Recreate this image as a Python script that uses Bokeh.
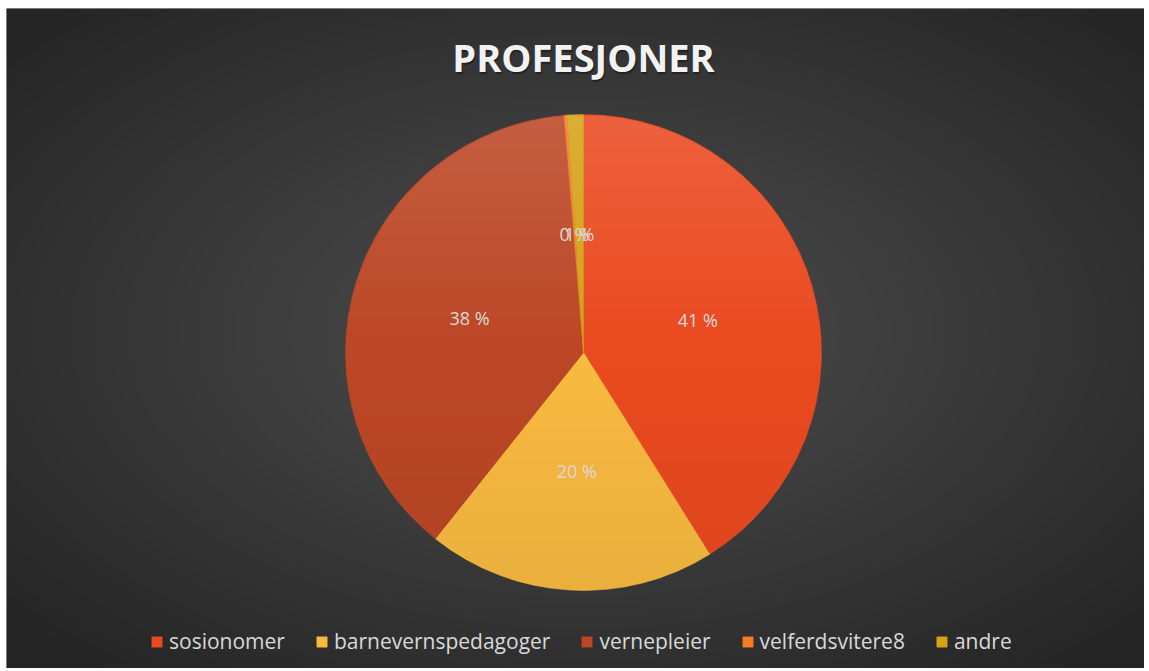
import numpy as np
from bokeh.plotting import figure
from bokeh.models import Range1d, Legend, LegendItem, ColumnDataSource
from bokeh.core.properties import value
from bokeh.embed import file_html
from bokeh.resources import INLINE

categories = ["sosionomer", "barnevernspedagoger", "vernepleier", "velferdsvitere8", "andre"]
shares = [41.1, 19.6, 38.0, 0.2, 1.1]
labels = ["41 %", "20 %", "38 %", "0 %", "1 %"]
colors = ["#EA4A20", "#F9BA40", "#BC4726", "#F97B22", "#D6A216"]

# frame spans image x 6..1144, y 8..668 ; data y = 671 - image_y
X0, X1 = 6, 1144
Y0, Y1 = 3, 663
CX, CY, R = 583, 319, 238

p = figure(width=X1, height=668, output_backend="svg", toolbar_location=None,
           x_range=Range1d(X0, X1), y_range=Range1d(Y0, Y1),
           min_border_left=6, min_border_top=8, min_border_right=0, min_border_bottom=0)
p.axis.visible = False
p.grid.visible = False
p.outline_line_color = None
p.background_fill_color = "#333333"
p.border_fill_color = "white"

# radial background gradient (decoration)
FW, FH = X1 - X0, Y1 - Y0
ny, nx = FH // 2, FW // 2
yy, xx = np.mgrid[0:ny, 0:nx]
gx = (X0 + xx * 2 + 1 - CX) / (FW / 2)
gy = (Y0 + yy * 2 + 1 - 340) / (FH / 2)
d = np.clip(np.sqrt(gx ** 2 + gy ** 2) / 1.35, 0, 1)
c0, c1 = np.array([0x4f, 0x4f, 0x4f]), np.array([0x25, 0x25, 0x25])
rgb = (c0[None, None, :] * (1 - d[..., None]) + c1[None, None, :] * d[..., None]).astype(np.uint32)
img = (255 << 24) | (rgb[..., 2] << 16) | (rgb[..., 1] << 8) | rgb[..., 0]
p.image_rgba(image=[img.astype(np.uint32)], x=X0, y=Y0, dw=FW, dh=FH)

frac = np.array(shares) / sum(shares)
cum = np.concatenate([[0], np.cumsum(frac)])
start = np.pi / 2 - cum[:-1] * 2 * np.pi
end = np.pi / 2 - cum[1:] * 2 * np.pi
mid = (start + end) / 2
src = ColumnDataSource(dict(lx=CX + 0.5 * R * np.cos(mid), ly=CY + 0.5 * R * np.sin(mid), lab=labels))
wedges = []
for i in range(len(categories)):
    r = p.wedge(x=CX, y=CY, radius=R, start_angle=start[i], end_angle=end[i], direction="clock",
                fill_color=colors[i], line_color=colors[i], line_width=0.5)
    wedges.append(r)

# subtle vertical shading over the pie (decoration)
sy, sx = np.mgrid[0:2 * R, 0:2 * R]
rr = np.sqrt((sx + 0.5 - R) ** 2 + (sy + 0.5 - R) ** 2)
t = sy / (2 * R)  # 0 bottom, 1 top
alpha = np.where(rr <= R - 0.5, np.where(t > 0.5, (t - 0.5) * 0.26, (0.5 - t) * 0.12), 0)
shade = np.where(t > 0.5, 255, 0).astype(np.uint32)
ov = ((alpha * 255).astype(np.uint32) << 24) | (shade << 16) | (shade << 8) | shade
p.image_rgba(image=[ov.astype(np.uint32)], x=CX - R, y=CY - R, dw=2 * R, dh=2 * R)

p.text(x="lx", y="ly", text="lab", source=src, text_color="#D9D9D9",
       text_font=value("Open Sans"), text_font_size="18px",
       text_align="center", text_baseline="middle")

# title with shadow
TY = 615
p.text(x=[CX + 1], y=[TY - 2], text=["PROFESJONER"], text_color="#151515", text_alpha=0.6,
       text_font=value("Open Sans"), text_font_style="bold", text_font_size="38px",
       text_align="center", text_baseline="middle")
p.text(x=[CX], y=[TY], text=["PROFESJONER"], text_color="#F2F2F2",
       text_font=value("Open Sans"), text_font_style="bold", text_font_size="38px",
       text_align="center", text_baseline="middle")

legend = Legend(items=[LegendItem(label=categories[i], renderers=[wedges[i]]) for i in range(len(categories))],
                orientation="horizontal", location=(144, 13),
                background_fill_alpha=0, border_line_alpha=0,
                label_text_color="#D9D9D9", label_text_font="Open Sans",
                label_text_font_size="21px", glyph_width=13, glyph_height=13,
                label_standoff=6, spacing=30, padding=0, margin=0)
p.add_layout(legend, "center")

open("out.html", "w").write(file_html(p, INLINE))
